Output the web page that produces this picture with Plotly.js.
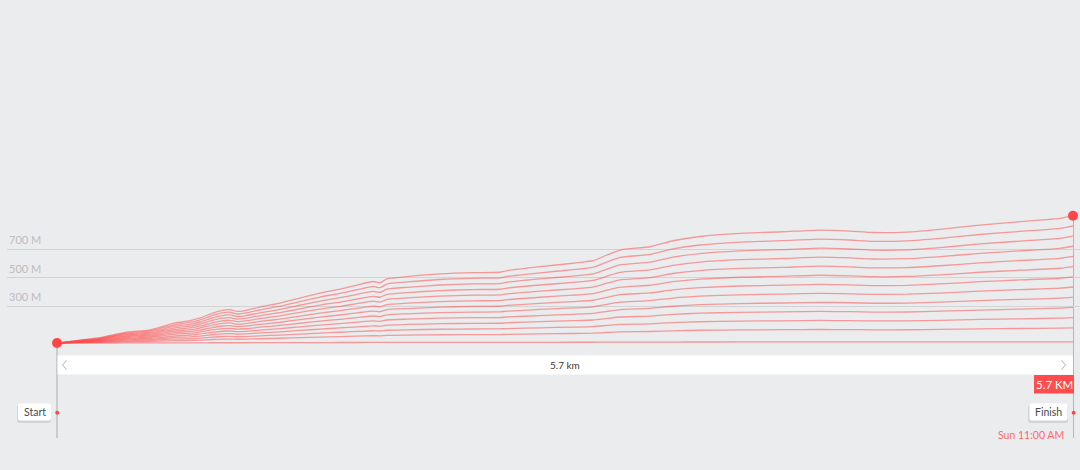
<!DOCTYPE html>
<html>
<head>
<meta charset="utf-8">
<script src="https://cdn.plot.ly/plotly-3.0.1.min.js"></script>
<style>
  html, body { margin: 0; padding: 0; background: #ebecee; }
  #chart { width: 1080px; height: 470px; }
</style>
</head>
<body>
<div id="chart"></div>
<script>
// ---- data ----
const distanceKm = [0, 0.129, 0.241, 0.325, 0.410, 0.466, 0.522, 0.578, 0.662, 0.746, 0.802, 0.870, 0.926, 0.971, 1.010, 1.055, 1.139, 1.251, 1.363, 1.475, 1.588, 1.683, 1.773, 1.812, 1.851, 1.964, 2.149, 2.334, 2.485, 2.525, 2.710, 2.895, 3.007, 3.086, 3.159, 3.327, 3.456, 3.607, 3.832, 4.073, 4.281, 4.449, 4.578, 4.769, 4.954, 5.178, 5.403, 5.627, 5.700];
const elevationM = [42, 63, 80, 103, 122, 127, 134, 153, 183, 199, 218, 251, 272, 277, 264, 270, 295, 323, 358, 393, 421, 449, 474, 465, 492, 508, 527, 536, 539, 550, 578, 602, 620, 660, 695, 718, 760, 790, 812, 823, 835, 828, 818, 821, 840, 870, 894, 917, 936];
// relative heights of the stacked profile layers (bottom to top)
const layerFractions = [0.01, 0.12, 0.20, 0.28, 0.36, 0.44, 0.52, 0.60, 0.68, 0.76, 0.84, 0.92, 1.00];
const gridValues = [300, 500, 700];
const gridLabels = ['300 M', '500 M', '700 M'];
const totalLabel = '5.7 km';
const totalBadge = '5.7 KM';
const startLabel = 'Start';
const finishLabel = 'Finish';
const finishTime = 'Sun 11:00 AM';

// ---- layout helpers ----
const W = 1080, H = 470, L = 7;
const px0 = 57, px1 = 1073;
const pxPerKm = (px1 - px0) / distanceKm[distanceKm.length - 1];
const xRange = [-(px0 - L) / pxPerKm, distanceKm[distanceKm.length - 1] + (W - px1) / pxPerKm];
const pxPerM = 0.1425;
const yTop = 300 + 306.3 / pxPerM;
const yRange = [yTop - H / pxPerM, yTop];
const PX = px => (px - L) / (W - L);
const PY = py => 1 - py / H;

const FONT = 'Lato, "Open Sans", sans-serif';
const RED = '#ff4747';

const base = elevationM[0];
const traces = layerFractions.map(f => ({
  type: 'scatter', mode: 'lines',
  x: distanceKm,
  y: elevationM.map(v => base + f * (v - base)),
  line: { color: 'rgba(255,75,75,0.52)', width: 1.3, shape: 'spline', smoothing: 0.5 },
  hoverinfo: 'skip', showlegend: false
}));

traces.push({
  type: 'scatter', mode: 'markers',
  x: [distanceKm[0], distanceKm[distanceKm.length - 1]],
  y: [elevationM[0], elevationM[elevationM.length - 1]],
  marker: { color: RED, size: 10 },
  hoverinfo: 'skip', showlegend: false
});

function roundRect(x0, y0, x1, y1, r) {
  const a = PX(x0), b = PX(x1), c = PY(y0), d = PY(y1);
  const rx = r / (W - L), ry = r / H;
  return `M ${a + rx} ${c} L ${b - rx} ${c} Q ${b} ${c} ${b} ${c - ry} L ${b} ${d + ry} Q ${b} ${d} ${b - rx} ${d} L ${a + rx} ${d} Q ${a} ${d} ${a} ${d + ry} L ${a} ${c - ry} Q ${a} ${c} ${a + rx} ${c} Z`;
}
function chevron(xTip, xBack, yMid, half) {
  return `M ${PX(xBack)} ${PY(yMid - half)} L ${PX(xTip)} ${PY(yMid)} L ${PX(xBack)} ${PY(yMid + half)}`;
}

const shapes = [
  { type: 'line', xref: 'paper', yref: 'paper', x0: PX(57), x1: PX(57), y0: PY(343), y1: PY(438), line: { color: '#bfc0c2', width: 1.5 }, layer: 'below' },
  { type: 'line', xref: 'paper', yref: 'paper', x0: PX(1073.5), x1: PX(1073.5), y0: PY(215), y1: PY(438), line: { color: '#b5b6b8', width: 1 }, layer: 'below' },
  { type: 'rect', xref: 'paper', yref: 'paper', x0: PX(57.5), x1: PX(1073), y0: PY(355.5), y1: PY(374.5), fillcolor: '#ffffff', line: { width: 0 } },
  { type: 'path', xref: 'paper', yref: 'paper', path: chevron(62.5, 66.5, 365, 4.5), line: { color: '#b0b0b0', width: 1 } },
  { type: 'path', xref: 'paper', yref: 'paper', path: chevron(1065.5, 1061.5, 365, 4.5), line: { color: '#b0b0b0', width: 1 } },
  { type: 'rect', xref: 'paper', yref: 'paper', x0: PX(1034), x1: PX(1074), y0: PY(375), y1: PY(393.5), fillcolor: '#ff4d4f', line: { width: 0 } },
  { type: 'path', xref: 'paper', yref: 'paper', path: roundRect(17, 405, 51, 423, 2.5), fillcolor: 'rgba(0,0,0,0.10)', line: { width: 0 } },
  { type: 'path', xref: 'paper', yref: 'paper', path: roundRect(1028, 405, 1068, 423, 2.5), fillcolor: 'rgba(0,0,0,0.10)', line: { width: 0 } },
  { type: 'path', xref: 'paper', yref: 'paper', path: roundRect(18, 403.5, 51, 420.5, 2.5), fillcolor: '#ffffff', line: { width: 0 } },
  { type: 'path', xref: 'paper', yref: 'paper', path: roundRect(1029.5, 403.5, 1067.5, 420.5, 2.5), fillcolor: '#ffffff', line: { width: 0 } },
  { type: 'circle', xref: 'paper', yref: 'paper', x0: PX(55.2), x1: PX(59.2), y0: PY(410.7), y1: PY(414.7), fillcolor: RED, line: { width: 0 } },
  { type: 'circle', xref: 'paper', yref: 'paper', x0: PX(1071.7), x1: PX(1075.7), y0: PY(410.7), y1: PY(414.7), fillcolor: RED, line: { width: 0 } }
];

const annotations = gridValues.map((v, i) => ({
  xref: 'paper', yref: 'y', x: 0, y: v, xanchor: 'left', yanchor: 'bottom', yshift: 1,
  text: gridLabels[i], showarrow: false,
  font: { family: FONT, size: 11, color: '#bcbdc0' }
})).concat([
  { xref: 'paper', yref: 'paper', x: PX(565), y: PY(365), xanchor: 'center', yanchor: 'middle', text: totalLabel, showarrow: false, font: { family: FONT, size: 10, color: '#3a3a3a' } },
  { xref: 'paper', yref: 'paper', x: PX(1054), y: PY(384.3), xanchor: 'center', yanchor: 'middle', text: totalBadge, showarrow: false, font: { family: FONT, size: 11.5, color: '#ffffff' } },
  { xref: 'paper', yref: 'paper', x: PX(34.5), y: PY(412), xanchor: 'center', yanchor: 'middle', text: startLabel, showarrow: false, font: { family: FONT, size: 10.5, color: '#4a4a4a' } },
  { xref: 'paper', yref: 'paper', x: PX(1048.5), y: PY(412), xanchor: 'center', yanchor: 'middle', text: finishLabel, showarrow: false, font: { family: FONT, size: 10.5, color: '#4a4a4a' } },
  { xref: 'paper', yref: 'paper', x: PX(1066), y: PY(435), xanchor: 'right', yanchor: 'middle', text: finishTime, showarrow: false, font: { family: FONT, size: 10.5, color: '#ff6a6a' } }
]);

const layout = {
  width: W, height: H,
  margin: { l: L, r: 0, t: 0, b: 0, pad: 0 },
  paper_bgcolor: '#ebecee', plot_bgcolor: '#ebecee',
  showlegend: false,
  xaxis: { range: xRange, showgrid: false, zeroline: false, showticklabels: false, showline: false, fixedrange: true },
  yaxis: { range: yRange, tickmode: 'array', tickvals: gridValues, showticklabels: false, ticks: '',
           showgrid: true, gridcolor: '#d2d3d5', gridwidth: 1, zeroline: false, showline: false, fixedrange: true },
  shapes: shapes,
  annotations: annotations
};

Plotly.newPlot('chart', traces, layout, { displayModeBar: false, staticPlot: true });
</script>
</body>
</html>
